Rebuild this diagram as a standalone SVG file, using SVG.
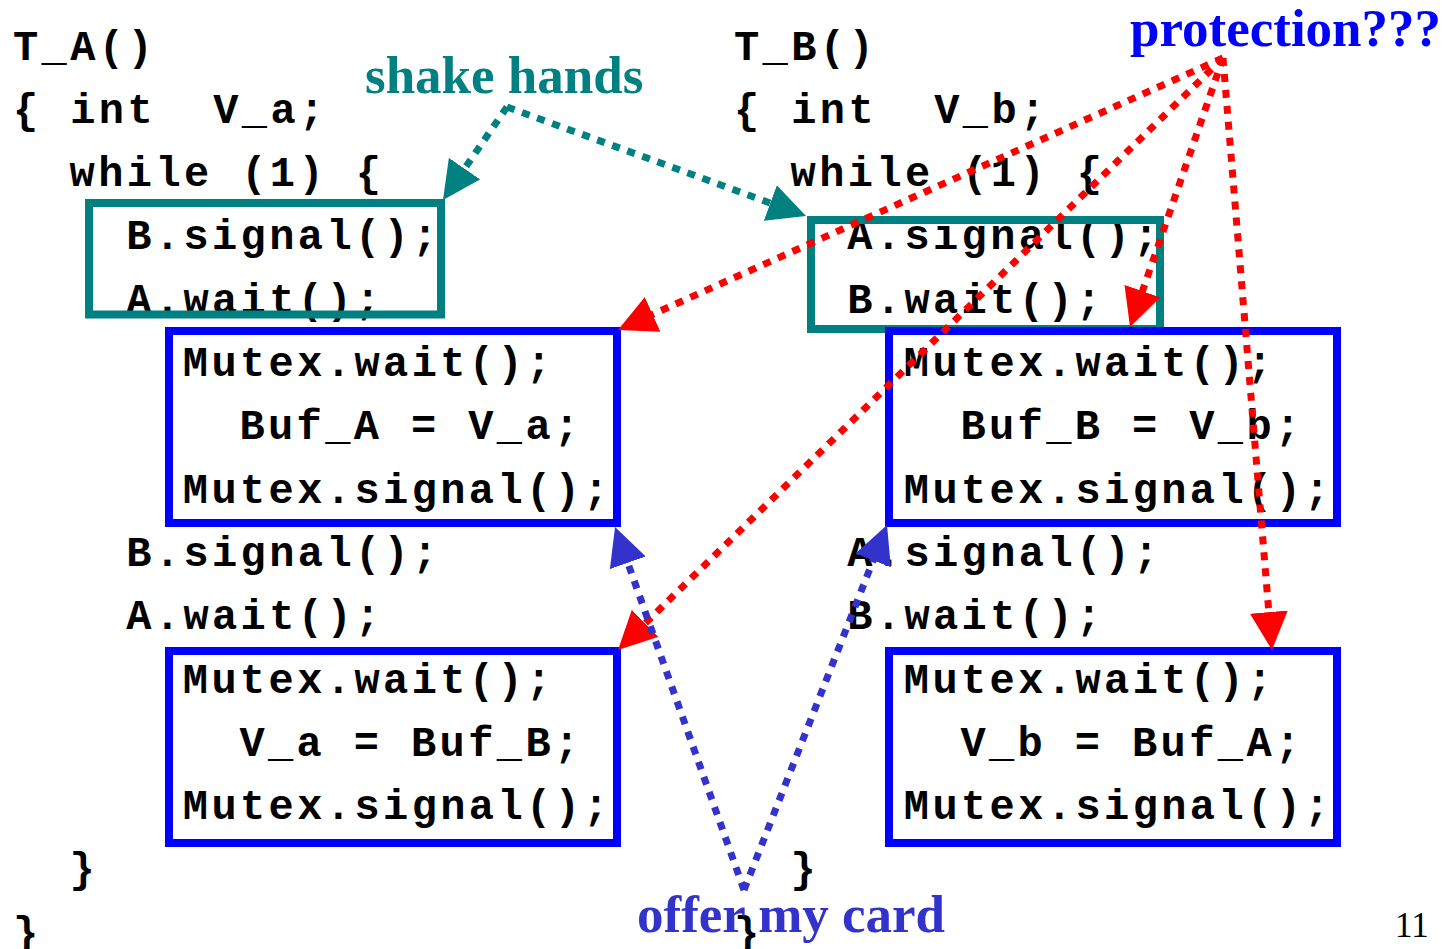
<svg xmlns="http://www.w3.org/2000/svg" width="1456" height="949" viewBox="0 0 1456 949">
  <style>
    .code { font-family: "Liberation Mono", "DejaVu Sans Mono", monospace; font-weight: bold; font-size: 42px; letter-spacing: 3.4px; fill: #000; white-space: pre; }
    .label { font-family: "Liberation Serif", "Times New Roman", serif; font-weight: bold; font-size: 53px; }
    .pair { fill: none; stroke: #008080; stroke-width: 8; }
    .crit { fill: none; stroke: #0000FF; stroke-width: 8; }
    .dot { fill: none; stroke-width: 7; stroke-dasharray: 8 8; stroke-linecap: butt; }
    .teal { stroke: #008080; }
    .red { stroke: #FF0000; }
    .slate { stroke: #3333CC; }
  </style>
  <defs>
    <marker id="head-teal" viewBox="0 0 38 38" refX="2" refY="19" markerWidth="38" markerHeight="38" markerUnits="userSpaceOnUse" orient="auto">
      <path d="M0,0 L38,19 L0,38 Z" fill="#008080"/>
    </marker>
    <marker id="head-red" viewBox="0 0 38 38" refX="2" refY="19" markerWidth="38" markerHeight="38" markerUnits="userSpaceOnUse" orient="auto">
      <path d="M0,0 L38,19 L0,38 Z" fill="#FF0000"/>
    </marker>
    <marker id="head-slate" viewBox="0 0 38 38" refX="2" refY="19" markerWidth="38" markerHeight="38" markerUnits="userSpaceOnUse" orient="auto">
      <path d="M0,0 L38,19 L0,38 Z" fill="#3333CC"/>
    </marker>
  </defs>

  <rect x="0" y="0" width="1456" height="949" fill="#FFFFFF"/>

  <!-- Thread A: outer code lines -->
  <g id="thread-a" class="code">
    <text x="13" y="59.5">T_A()</text>
    <text x="13" y="122.8" xml:space="preserve">{ int  V_a;</text>
    <text x="69.6" y="186.1" xml:space="preserve">while (1) {</text>
    <text x="126.2" y="565.9">B.signal();</text>
    <text x="126.2" y="629.2">A.wait();</text>
    <text x="69.6" y="882.4">}</text>
    <text x="13" y="945.7">}</text>
  </g>

  <!-- Thread B: outer code lines -->
  <g id="thread-b" class="code">
    <text x="734" y="59.5">T_B()</text>
    <text x="734" y="122.8" xml:space="preserve">{ int  V_b;</text>
    <text x="790.6" y="186.1" xml:space="preserve">while (1) {</text>
    <text x="847.2" y="565.9">A.signal();</text>
    <text x="847.2" y="629.2">B.wait();</text>
    <text x="790.6" y="882.4">}</text>
    <text x="734" y="945.7">}</text>
  </g>

  <!-- Handshake blocks -->
  <g id="handshake-a">
    <text class="code" x="126.2" y="249.4">B.signal();</text>
    <text class="code" x="126.2" y="312.7">A.wait();</text>
    <rect class="pair" x="89" y="203" width="352" height="111.5"/>
  </g>
  <g id="handshake-b">
    <text class="code" x="847.2" y="249.4">A.signal();</text>
    <text class="code" x="847.2" y="312.7">B.wait();</text>
    <rect class="pair" x="811" y="220" width="349" height="109"/>
  </g>

  <!-- Critical sections -->
  <g id="write-a">
    <text class="code" x="182.8" y="376">Mutex.wait();</text>
    <text class="code" x="239.4" y="439.3" xml:space="preserve">Buf_A = V_a;</text>
    <text class="code" x="182.8" y="502.6">Mutex.signal();</text>
    <rect class="crit" x="169" y="331" width="448" height="192"/>
  </g>
  <g id="read-a">
    <text class="code" x="182.8" y="692.5">Mutex.wait();</text>
    <text class="code" x="239.4" y="755.8" xml:space="preserve">V_a = Buf_B;</text>
    <text class="code" x="182.8" y="819.1">Mutex.signal();</text>
    <rect class="crit" x="169" y="651" width="448" height="192"/>
  </g>
  <g id="write-b">
    <text class="code" x="903.8" y="376">Mutex.wait();</text>
    <text class="code" x="960.4" y="439.3" xml:space="preserve">Buf_B = V_b;</text>
    <text class="code" x="903.8" y="502.6">Mutex.signal();</text>
    <rect class="crit" x="889" y="331" width="448" height="192"/>
  </g>
  <g id="read-b">
    <text class="code" x="903.8" y="692.5">Mutex.wait();</text>
    <text class="code" x="960.4" y="755.8" xml:space="preserve">V_b = Buf_A;</text>
    <text class="code" x="903.8" y="819.1">Mutex.signal();</text>
    <rect class="crit" x="889" y="651" width="448" height="192"/>
  </g>

  <!-- Dotted connectors -->
  <g id="connectors">
    <line class="dot teal" x1="507" y1="107" x2="463.4" y2="170.3" marker-end="url(#head-teal)"/>
    <line class="dot teal" x1="507" y1="107" x2="772.2" y2="203.7" marker-end="url(#head-teal)"/>
    <line class="dot red" x1="1223" y1="58" x2="650.8" y2="315.2" marker-end="url(#head-red)"/>
    <line class="dot red" x1="1223" y1="58" x2="643.7" y2="624.8" marker-end="url(#head-red)"/>
    <line class="dot red" x1="1223" y1="58" x2="1141.8" y2="293.0" marker-end="url(#head-red)"/>
    <line class="dot red" x1="1223" y1="58" x2="1269.0" y2="614.1" marker-end="url(#head-red)"/>
    <line class="dot slate" x1="744" y1="890" x2="627.1" y2="560.9" marker-end="url(#head-slate)"/>
    <line class="dot slate" x1="744" y1="890" x2="873.9" y2="558.5" marker-end="url(#head-slate)"/>
  </g>

  <!-- Annotations -->
  <g id="labels">
    <text id="shake-hands" class="label" x="365" y="93" fill="#008080">shake hands</text>
    <text id="protection" class="label" x="1130" y="46" fill="#0000FF">protection???</text>
    <text id="offer" class="label" x="637" y="932" fill="#3333CC">offer my card</text>
    <text id="page" x="1395" y="937" font-family="'Liberation Serif', 'Times New Roman', serif" font-size="35" fill="#000">11</text>
  </g>
</svg>
